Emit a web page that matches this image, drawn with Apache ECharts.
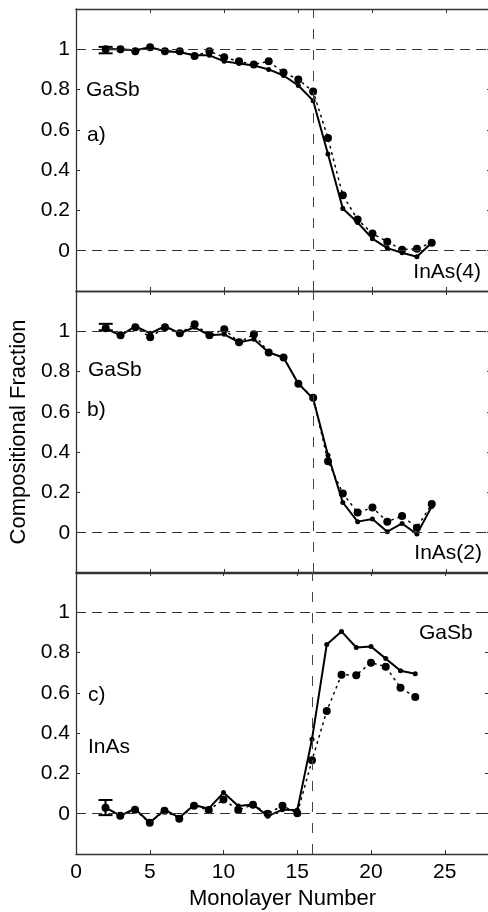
<!DOCTYPE html>
<html lang="en">
<head>
<meta charset="UTF-8">
<script src="https://cdn.jsdelivr.net/npm/echarts@6/dist/echarts.min.js"></script>
<style>
	html, body { margin: 0; padding: 0; background: #fff; overflow: hidden; }
	#chart { width: 492px; height: 912px; }
</style>
</head>
<body>
<div id="chart"></div>
<script>
// monolayer numbers
var layers = [2, 3, 4, 5, 6, 7, 8, 9, 10, 11, 12, 13, 14, 15, 16, 17, 18, 19, 20, 21, 22, 23, 24];
var layersC = [2, 3, 4, 5, 6, 7, 8, 9, 10, 11, 12, 13, 14, 15, 16, 17, 18, 19, 20, 21, 22, 23];

// a) InAs(4)
var aSolid = [1.0, 1.0, 0.995, 1.01, 0.99, 0.985, 0.97, 0.97, 0.94, 0.93, 0.92, 0.9, 0.87, 0.82, 0.745, 0.48, 0.21, 0.14, 0.06, 0.013, -0.01, -0.03, 0.04];
var aDotted = [1.0, 1.0, 0.99, 1.01, 0.99, 0.99, 0.967, 0.99, 0.96, 0.94, 0.925, 0.94, 0.885, 0.85, 0.79, 0.56, 0.275, 0.155, 0.085, 0.045, 0.005, 0.01, 0.04];

// b) InAs(2)
var bSolid = [1.013, 0.98, 1.025, 0.99, 1.025, 0.99, 1.02, 0.98, 0.985, 0.945, 0.96, 0.895, 0.87, 0.74, 0.665, 0.385, 0.15, 0.055, 0.068, 0.005, 0.046, -0.007, 0.13];
var bDotted = [1.015, 0.98, 1.02, 0.97, 1.02, 0.99, 1.035, 0.98, 1.01, 0.945, 0.985, 0.895, 0.87, 0.74, 0.67, 0.355, 0.195, 0.10, 0.125, 0.055, 0.083, 0.025, 0.143];

// c) InAs on GaSb
var cSolid = [0.03, -0.01, 0.025, -0.045, 0.02, -0.02, 0.043, 0.025, 0.105, 0.038, 0.046, -0.012, 0.02, 0.018, 0.37, 0.84, 0.905, 0.825, 0.83, 0.77, 0.71, 0.695];
var cDotted = [0.03, -0.01, 0.02, -0.045, 0.015, -0.025, 0.04, 0.018, 0.07, 0.018, 0.045, 0.0, 0.04, 0.002, 0.265, 0.51, 0.69, 0.688, 0.75, 0.73, 0.625, 0.58];

// error bars: [x, low, high]
var errA = [[2, 0.98, 1.012]];
var errB = [[2, 1.005, 1.037]];
var errC = [[2, -0.007, 0.068]];

var yTicks = [0, 0.2, 0.4, 0.6, 0.8, 1];
var xTicks = [0, 5, 10, 15, 20, 25];

var FONT = '"Liberation Sans", Arial, Helvetica, sans-serif';
var AXIS = '#333';

function pairs(xs, ys) {
	return xs.map(function (x, i) { return [x, ys[i]]; });
}

var chart = echarts.init(document.getElementById('chart'));

var gridTops = [9, 291, 572];
var grids = gridTops.map(function (t) {
	return { left: 76, top: t, width: 415, height: 282 };
});

var xAxis = [];
var yAxis = [];
[0, 1, 2].forEach(function (g) {
	['bottom', 'top'].forEach(function (pos) {
		var last = g === 2 && pos === 'bottom';
		xAxis.push({
			type: 'value', gridIndex: g, position: pos, min: 0, max: 28, interval: 5,
			axisLine: { show: true, onZero: false, lineStyle: { color: AXIS, width: 1.3 } },
			axisTick: { show: true, inside: true, length: 4, lineStyle: { color: AXIS } },
			axisLabel: {
				show: last, color: '#000', fontSize: 21, fontFamily: FONT, margin: 8,
				formatter: function (v) { return xTicks.indexOf(v) >= 0 ? String(v) : ''; }
			},
			splitLine: { show: false },
			name: last ? 'Monolayer Number' : '',
			nameLocation: 'middle', nameGap: 34,
			nameTextStyle: { color: '#000', fontSize: 22, fontFamily: FONT }
		});
	});
	['left', 'right'].forEach(function (pos) {
		var left = pos === 'left';
		yAxis.push({
			type: 'value', gridIndex: g, position: pos, min: -0.2, max: 1.2, interval: 0.2,
			axisLine: { show: true, onZero: false, lineStyle: { color: AXIS, width: 1.3 } },
			axisTick: { show: true, inside: true, length: 4, lineStyle: { color: AXIS } },
			axisLabel: {
				show: left, color: '#000', fontSize: 21, fontFamily: FONT, margin: 6,
				formatter: function (v) {
					var r = Math.round(v * 10) / 10;
					return yTicks.indexOf(r) >= 0 ? String(r) : '';
				}
			},
			splitLine: { show: false },
			name: (left && g === 1) ? 'Compositional Fraction' : '',
			nameLocation: 'middle', nameGap: 44,
			nameTextStyle: { color: '#000', fontSize: 22, fontFamily: FONT }
		});
	});
});

function refLines() {
	return {
		silent: true, symbol: 'none', animation: false,
		label: { show: false },
		data: [
			{ yAxis: 0, lineStyle: { color: '#333', width: 1.2, type: [10, 6] } },
			{ yAxis: 1, lineStyle: { color: '#333', width: 1.2, type: [10, 6] } },
			{ xAxis: 16, lineStyle: { color: '#444', width: 1, type: [10, 11] } }
		]
	};
}

function errorSeries(g, data) {
	return {
		type: 'custom', xAxisIndex: g * 2, yAxisIndex: g * 2, data: data, z: 5,
		renderItem: function (params, api) {
			var lo = api.coord([api.value(0), api.value(1)]);
			var hi = api.coord([api.value(0), api.value(2)]);
			var w = 7;
			var st = { stroke: '#000', lineWidth: 2 };
			return {
				type: 'group', children: [
					{ type: 'line', shape: { x1: lo[0], y1: lo[1], x2: hi[0], y2: hi[1] }, style: st },
					{ type: 'line', shape: { x1: lo[0] - w, y1: lo[1], x2: lo[0] + w, y2: lo[1] }, style: st },
					{ type: 'line', shape: { x1: hi[0] - w, y1: hi[1], x2: hi[0] + w, y2: hi[1] }, style: st }
				]
			};
		}
	};
}

function panelSeries(g, xs, solid, dotted, err) {
	return [
		{
			type: 'line', xAxisIndex: g * 2, yAxisIndex: g * 2, data: pairs(xs, dotted),
			symbol: 'circle', symbolSize: 8, showSymbol: true,
			itemStyle: { color: '#000' },
			lineStyle: { color: '#000', width: 1.5, type: [1.5, 5], cap: 'round' },
			markLine: refLines(), z: 3
		},
		{
			type: 'line', xAxisIndex: g * 2, yAxisIndex: g * 2, data: pairs(xs, solid),
			symbol: 'circle', symbolSize: 5, showSymbol: true,
			itemStyle: { color: '#000' },
			lineStyle: { color: '#000', width: 2 }, z: 4
		},
		errorSeries(g, err)
	];
}

var series = []
	.concat(panelSeries(0, layers, aSolid, aDotted, errA))
	.concat(panelSeries(1, layers, bSolid, bDotted, errB))
	.concat(panelSeries(2, layersC, cSolid, cDotted, errC));

function txt(s, x, y, align) {
	return {
		type: 'text', x: x, y: y, silent: true, z: 10,
		style: { text: s, fill: '#000', font: '21px ' + FONT, align: align || 'left', verticalAlign: 'middle' }
	};
}

chart.setOption({
	backgroundColor: '#fff',
	animation: false,
	grid: grids,
	xAxis: xAxis,
	yAxis: yAxis,
	series: series,
	graphic: [
		txt('GaSb', 86, 90), txt('a)', 87, 135), txt('InAs(4)', 481, 272, 'right'),
		txt('GaSb', 88, 370), txt('b)', 87, 410), txt('InAs(2)', 482, 553, 'right'),
		txt('GaSb', 419, 633), txt('c)', 88, 695), txt('InAs', 88, 747)
	]
});
</script>
</body>
</html>
